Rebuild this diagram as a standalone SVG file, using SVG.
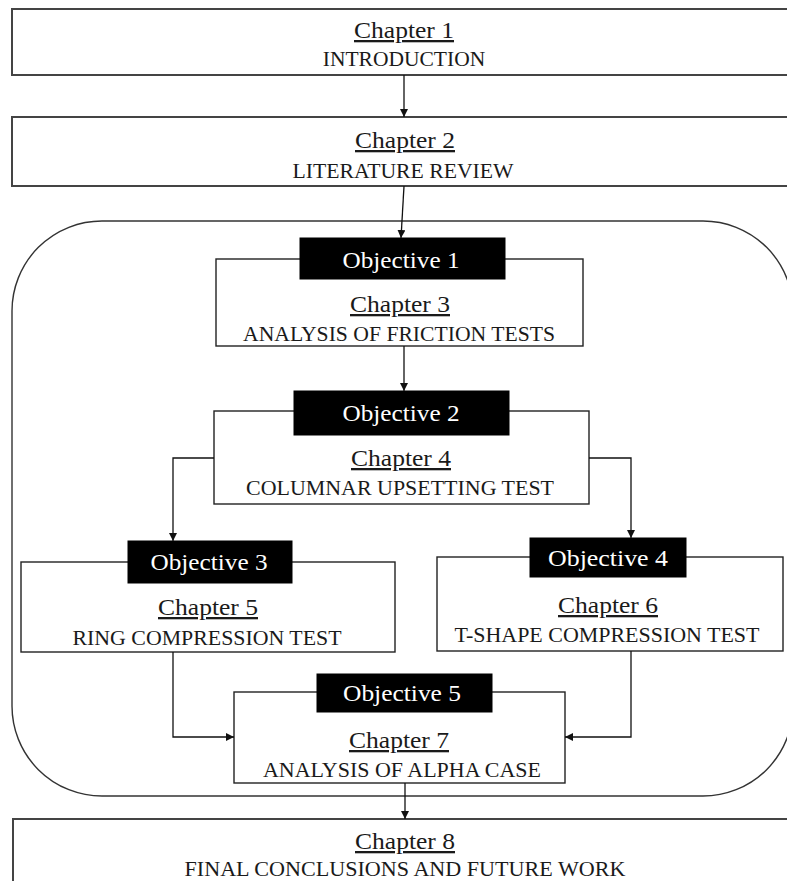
<svg xmlns="http://www.w3.org/2000/svg" width="787" height="881" viewBox="0 0 787 881">
<defs>
<marker id="ah" viewBox="0 0 10 10" refX="10" refY="5" markerWidth="8" markerHeight="8" markerUnits="userSpaceOnUse" orient="auto">
<path d="M0,0 L10,5 L0,10 z" fill="#111"/>
</marker>
<style>
.wide{fill:#fff;stroke:#444;stroke-width:2}
.box{fill:#fff;stroke:#222;stroke-width:1.4}
.obj{fill:#000;stroke:#000;stroke-width:1}
.frame{fill:none;stroke:#333;stroke-width:1.4}
.ch{font-family:"Liberation Serif","Times New Roman",serif;font-size:23px;fill:#1a1a1a;text-anchor:middle;text-decoration:underline}
.sub{font-family:"Liberation Serif","Times New Roman",serif;font-size:21.5px;fill:#1a1a1a;text-anchor:middle}
.ot{font-family:"Liberation Serif","Times New Roman",serif;font-size:24px;fill:#fff;text-anchor:middle}
.con{fill:none;stroke:#111;stroke-width:1.3}
</style>
</defs>
<rect width="787" height="881" fill="#fff"/>
<rect id="outer" class="frame" x="12" y="221" width="781" height="575" rx="90" ry="90"/>
<g id="ch1">
<rect class="wide" x="12" y="9" width="790" height="66"/>
<text class="ch" x="404" y="38" textLength="100" lengthAdjust="spacingAndGlyphs">Chapter 1</text>
<text class="sub" x="404" y="66">INTRODUCTION</text>
</g>
<g id="ch2">
<rect class="wide" x="12" y="117" width="790" height="69"/>
<text class="ch" x="405" y="148" textLength="100" lengthAdjust="spacingAndGlyphs">Chapter 2</text>
<text class="sub" x="403" y="178" textLength="221" lengthAdjust="spacingAndGlyphs">LITERATURE REVIEW</text>
</g>
<g id="ch3">
<rect class="box" x="216" y="259" width="367" height="87"/>
<rect class="obj" x="300" y="238" width="205" height="41"/>
<text class="ot" x="401" y="268" textLength="117" lengthAdjust="spacingAndGlyphs">Objective 1</text>
<text class="ch" x="400" y="312" textLength="100" lengthAdjust="spacingAndGlyphs">Chapter 3</text>
<text class="sub" x="399" y="341" textLength="312" lengthAdjust="spacingAndGlyphs">ANALYSIS OF FRICTION TESTS</text>
</g>
<g id="ch4">
<rect class="box" x="214" y="411" width="375" height="93"/>
<rect class="obj" x="294" y="391" width="215" height="44"/>
<text class="ot" x="401" y="421" textLength="117" lengthAdjust="spacingAndGlyphs">Objective 2</text>
<text class="ch" x="401" y="466" textLength="100" lengthAdjust="spacingAndGlyphs">Chapter 4</text>
<text class="sub" x="400" y="495" textLength="308" lengthAdjust="spacingAndGlyphs">COLUMNAR UPSETTING TEST</text>
</g>
<g id="ch5">
<rect class="box" x="21" y="562" width="374" height="90"/>
<rect class="obj" x="128" y="541" width="164" height="42"/>
<text class="ot" x="209" y="570" textLength="117" lengthAdjust="spacingAndGlyphs">Objective 3</text>
<text class="ch" x="208" y="615" textLength="100" lengthAdjust="spacingAndGlyphs">Chapter 5</text>
<text class="sub" x="207" y="645" textLength="269" lengthAdjust="spacingAndGlyphs">RING COMPRESSION TEST</text>
</g>
<g id="ch6">
<rect class="box" x="437" y="557" width="346" height="94"/>
<rect class="obj" x="530" y="538" width="156" height="39"/>
<text class="ot" x="608" y="566" textLength="120" lengthAdjust="spacingAndGlyphs">Objective 4</text>
<text class="ch" x="608" y="613" textLength="100" lengthAdjust="spacingAndGlyphs">Chapter 6</text>
<text class="sub" x="607" y="642" textLength="305" lengthAdjust="spacingAndGlyphs">T-SHAPE COMPRESSION TEST</text>
</g>
<g id="ch7">
<rect class="box" x="234" y="692" width="331" height="91"/>
<rect class="obj" x="317" y="674" width="175" height="38"/>
<text class="ot" x="402" y="701" textLength="118" lengthAdjust="spacingAndGlyphs">Objective 5</text>
<text class="ch" x="399" y="748" textLength="100" lengthAdjust="spacingAndGlyphs">Chapter 7</text>
<text class="sub" x="402" y="777" textLength="278" lengthAdjust="spacingAndGlyphs">ANALYSIS OF ALPHA CASE</text>
</g>
<g id="ch8">
<rect class="wide" x="13" y="819" width="790" height="80"/>
<text class="ch" x="405" y="849" textLength="100" lengthAdjust="spacingAndGlyphs">Chapter 8</text>
<text class="sub" x="405" y="876" textLength="441" lengthAdjust="spacingAndGlyphs">FINAL CONCLUSIONS AND FUTURE WORK</text>
</g>
<g id="connectors">
<path class="con" d="M404,75 L404,117" marker-end="url(#ah)"/>
<path class="con" d="M404,186 L401,238" marker-end="url(#ah)"/>
<path class="con" d="M404,346 L404,391" marker-end="url(#ah)"/>
<path class="con" d="M214,458 L173,458 L173,541" marker-end="url(#ah)"/>
<path class="con" d="M589,458 L631,458 L631,538" marker-end="url(#ah)"/>
<path class="con" d="M173,652 L173,737 L234,737" marker-end="url(#ah)"/>
<path class="con" d="M631,651 L631,737 L565,737" marker-end="url(#ah)"/>
<path class="con" d="M405,783 L405,819" marker-end="url(#ah)"/>
</g>
</svg>
